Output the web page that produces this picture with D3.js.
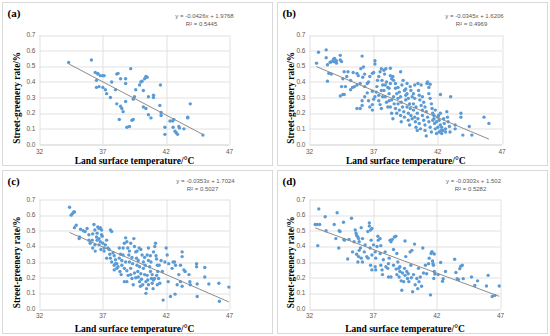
<!DOCTYPE html>
<html>
<head>
<meta charset="utf-8">
<script src="https://d3js.org/d3.v7.min.js"></script>
<style>
  body { margin: 0; background: #fff; }
  svg { display: block; }
</style>
</head>
<body>
<div id="chart"></div>
<script>

  // labels / regression text for the four panels
  var panelLabels = ["(a)", "(b)", "(c)", "(d)"]
  var slopes = [-0.0426, -0.0345, -0.0353, -0.0303]
  var intercepts = [1.9768, 1.6206, 1.7024, 1.502]
  var equations = ["y = -0.0426x + 1.9768", "y = -0.0345x + 1.6206", "y = -0.0353x + 1.7024", "y = -0.0303x + 1.502"]
  var r2Values = ["0.5445", "0.4969", "0.5027", "0.5282"]

  var xTicks = [32, 37, 42, 47]
  var yTicks = [0, 0.1, 0.2, 0.3, 0.4, 0.5, 0.6, 0.7]
  var xTitle = "Land surface temperature/°C"
  var yTitle = "Street-greenery rate/%"

  // [land surface temperature, street-greenery rate]
  var pointsA = [
    [34.3,0.525],[36.1,0.54],[36.4,0.46],[36.6,0.455],[36.6,0.45],[36.8,0.44],[36.5,0.41],[37.0,0.44],[37.1,0.44],
    [36.5,0.365],[36.7,0.37],[37.0,0.365],[37.2,0.35],[37.3,0.325],[37.6,0.30],[37.7,0.40],[38.1,0.45],[38.2,0.455],
    [38.4,0.42],[38.0,0.35],[38.1,0.26],[38.4,0.245],[38.5,0.23],[38.6,0.21],[38.3,0.16],[38.8,0.42],[38.8,0.39],
    [39.2,0.485],[38.8,0.275],[38.9,0.11],[39.1,0.115],[39.3,0.155],[39.4,0.16],[39.4,0.29],[39.5,0.305],[39.6,0.35],
    [39.9,0.38],[40.0,0.40],[40.1,0.405],[40.2,0.345],[40.3,0.42],[40.4,0.435],[40.5,0.43],[40.2,0.24],[40.4,0.23],
    [40.6,0.305],[40.6,0.19],[40.8,0.17],[41.0,0.315],[41.0,0.30],[41.55,0.38],[41.5,0.25],[41.6,0.205],[41.6,0.185],
    [41.9,0.11],[41.9,0.065],[42.3,0.15],[42.5,0.15],[42.6,0.16],[42.55,0.11],[42.7,0.085],[42.8,0.075],[42.9,0.065],
    [43.0,0.115],[43.05,0.105],[43.4,0.10],[43.7,0.175],[43.7,0.17],[43.9,0.26],[44.9,0.06]
  ]

  var pointsB = [
    [32.55,0.52],[32.7,0.59],[33.3,0.605],[33.3,0.555],[33.4,0.51],[33.4,0.405],[33.5,0.455],[33.7,0.45],
    [33.6,0.525],[33.7,0.53],[33.87,0.53],[34.0,0.53],[34.1,0.52],[33.87,0.545],[33.95,0.55],[34.1,0.535],[34.4,0.57],
    [34.4,0.54],[34.5,0.53],[34.4,0.31],[34.6,0.32],[34.7,0.32],[34.8,0.37],[34.5,0.37],[34.6,0.42],[34.7,0.465],
    [35.0,0.465],[34.9,0.435],[35.2,0.41],[35.2,0.35],[35.35,0.365],[35.5,0.37],[35.4,0.46],[35.7,0.455],[35.8,0.44],
    [35.7,0.38],[35.95,0.39],[36.1,0.565],[36.0,0.485],[36.2,0.495],[36.15,0.43],[36.3,0.45],[35.7,0.23],[35.95,0.23],
    [36.1,0.25],[36.1,0.28],[36.3,0.305],[36.3,0.37],[36.5,0.39],[36.6,0.40],[36.7,0.435],[36.9,0.455],[37.0,0.46],
    [37.1,0.535],[37.1,0.515],[36.6,0.28],[36.7,0.24],[36.9,0.22],[36.9,0.255],[37.1,0.305],[37.2,0.335],[37.25,0.37],
    [37.3,0.41],[37.4,0.435],[37.5,0.465],[37.6,0.485],[37.8,0.475],[37.85,0.45],[37.95,0.485],[38.3,0.487],[39.1,0.465],
    [37.4,0.28],[37.5,0.255],[37.6,0.23],[37.7,0.305],[37.8,0.345],[37.9,0.38],[38.0,0.40],[38.1,0.365],[38.2,0.325],
    [38.2,0.28],[38.3,0.24],[38.4,0.20],[38.5,0.165],[38.55,0.41],[38.7,0.39],[38.7,0.36],[38.8,0.325],[38.9,0.295],
    [38.9,0.26],[39.0,0.22],[39.1,0.185],[39.15,0.145],[39.2,0.38],[39.3,0.41],[39.4,0.345],[39.5,0.315],[39.5,0.285],
    [39.6,0.24],[39.7,0.20],[39.7,0.155],[39.8,0.125],[39.85,0.37],[39.9,0.345],[40.0,0.305],[40.1,0.26],[40.1,0.22],
    [40.2,0.175],[40.25,0.145],[40.3,0.11],[40.4,0.09],[40.45,0.39],[40.5,0.345],[40.55,0.315],[40.6,0.285],[40.7,0.25],
    [40.8,0.22],[40.8,0.185],[40.9,0.155],[41.0,0.125],[41.0,0.09],[41.1,0.055],[41.15,0.39],[41.2,0.40],[41.3,0.365],
    [41.3,0.325],[41.4,0.295],[41.5,0.26],[41.55,0.23],[41.6,0.20],[41.7,0.165],[41.75,0.135],[41.8,0.10],[41.9,0.07],
    [42.0,0.175],[42.05,0.185],[42.1,0.155],[42.2,0.125],[42.25,0.09],[42.3,0.07],[42.45,0.165],[42.5,0.135],[42.6,0.10],
    [42.6,0.08],[42.7,0.21],[42.75,0.175],[42.8,0.145],[42.9,0.115],[42.95,0.08],[43.0,0.305],[43.35,0.10],[43.35,0.125],
    [43.8,0.20],[43.8,0.175],[43.95,0.06],[44.45,0.115],[44.65,0.06],[45.6,0.175],[45.98,0.135],
    [38.4,0.285],[38.55,0.305],[38.6,0.26],[38.7,0.23],[38.8,0.20],[38.9,0.365],[39.0,0.335],[39.1,0.305],[39.15,0.27],
    [39.25,0.24],[39.35,0.21],[39.4,0.175],[39.5,0.355],[39.6,0.325],[39.7,0.295],[39.8,0.26],[39.85,0.23],[39.9,0.185],
    [40.0,0.165],[40.1,0.325],[40.2,0.295],[40.3,0.24],[40.4,0.20],[40.45,0.165],[40.55,0.135],[40.65,0.10],[40.8,0.305],
    [40.9,0.27],[41.0,0.24],[41.1,0.21],[41.2,0.175],[41.3,0.145],[41.4,0.11],[41.5,0.08],[41.6,0.155],[41.7,0.185],
    [41.8,0.22],[41.9,0.145],[42.0,0.11],[42.1,0.08],[42.2,0.20],[42.3,0.11],[42.4,0.09],[37.9,0.305],[38.0,0.27],
    [38.1,0.24],[38.2,0.36],[38.3,0.39],[38.4,0.42],[37.65,0.41],[37.7,0.38],[37.6,0.345],[37.4,0.315],[38.3,0.44],
    [38.5,0.435],[39.6,0.39],[40.2,0.38],[40.7,0.38],[41.4,0.385],[42.2,0.32],[36.9,0.34],[36.5,0.33],[37.0,0.29]
  ]

  var pointsC = [
    [34.37,0.65],[34.5,0.60],[34.6,0.61],[34.7,0.62],[34.76,0.62],[34.76,0.52],[34.9,0.535],[35.16,0.46],[35.24,0.51],
    [35.13,0.45],[35.6,0.495],[35.76,0.515],[35.9,0.475],[36.0,0.42],[36.16,0.44],[36.3,0.54],[36.37,0.505],[36.4,0.37],
    [36.55,0.485],[36.6,0.525],[36.7,0.515],[36.8,0.52],[36.9,0.505],[36.55,0.44],[36.7,0.45],[36.8,0.43],[36.95,0.465],
    [37.0,0.42],[36.7,0.41],[36.37,0.41],[36.2,0.39],[37.1,0.39],[37.1,0.37],[37.3,0.44],[37.4,0.39],[37.55,0.35],
    [37.6,0.505],[37.7,0.495],[37.6,0.325],[37.7,0.30],[37.9,0.28],[38.0,0.315],[38.1,0.26],[38.1,0.29],[37.9,0.25],
    [38.3,0.39],[38.3,0.325],[38.35,0.24],[38.45,0.22],[38.5,0.28],[38.7,0.26],[38.7,0.175],[38.9,0.175],[38.6,0.39],
    [38.7,0.42],[38.8,0.455],[38.9,0.43],[38.97,0.39],[39.05,0.345],[39.1,0.30],[39.2,0.26],[39.2,0.22],[39.3,0.195],
    [39.4,0.155],[39.45,0.45],[39.5,0.40],[39.6,0.365],[39.66,0.325],[39.7,0.28],[39.76,0.24],[39.8,0.205],[39.9,0.175],
    [39.97,0.145],[39.87,0.39],[40.0,0.38],[40.1,0.345],[40.2,0.30],[40.2,0.26],[40.3,0.22],[40.4,0.175],[40.45,0.13],
    [40.4,0.10],[40.5,0.345],[40.6,0.39],[40.6,0.31],[40.7,0.27],[40.76,0.24],[40.84,0.195],[40.9,0.165],[40.97,0.13],
    [41.0,0.365],[41.1,0.40],[41.16,0.42],[41.24,0.32],[41.3,0.28],[41.34,0.24],[41.4,0.195],[41.5,0.165],[41.3,0.155],
    [41.08,0.195],[41.7,0.24],[41.76,0.057],[41.9,0.30],[42.0,0.39],[42.08,0.345],[42.16,0.175],[42.2,0.29],[42.34,0.08],
    [42.47,0.26],[42.55,0.30],[42.66,0.30],[42.74,0.28],[42.7,0.095],[42.87,0.155],[43.0,0.22],[43.13,0.28],[43.26,0.365],
    [43.26,0.335],[43.4,0.25],[43.5,0.24],[43.13,0.175],[43.26,0.145],[44.4,0.29],[44.4,0.27],[45.05,0.265],[45.05,0.205],
    [43.8,0.22],[43.87,0.175],[43.9,0.155],[44.45,0.16],[45.37,0.16],[46.16,0.165],[44.45,0.08],[46.2,0.05],[46.95,0.14],
    [35.45,0.50],[35.9,0.44],[36.2,0.48],[36.5,0.46],[36.9,0.475],[37.2,0.41],[37.5,0.38],[37.8,0.36],[37.9,0.34],
    [38.0,0.29],[38.2,0.27],[38.5,0.31],[38.6,0.345],[38.8,0.30],[38.9,0.245],[39.0,0.215],[39.1,0.37],[39.3,0.33],
    [39.35,0.29],[39.5,0.23],[39.6,0.20],[39.7,0.37],[39.8,0.31],[39.9,0.27],[40.0,0.225],[40.05,0.19],[40.15,0.155],
    [40.3,0.33],[40.35,0.28],[40.5,0.215],[40.55,0.185],[40.6,0.155],[40.75,0.34],[40.8,0.30],[40.9,0.22],[41.0,0.185],
    [41.2,0.34],[41.25,0.215],[41.45,0.28],[41.6,0.31],[39.2,0.42],[38.4,0.35],[37.3,0.325],[36.85,0.38]
  ]

  var pointsD = [
    [32.73,0.64],[32.45,0.54],[32.6,0.54],[32.8,0.54],[32.65,0.405],[33.23,0.59],[33.3,0.50],[33.94,0.54],[34.17,0.615],
    [34.33,0.50],[34.4,0.495],[34.07,0.45],[34.3,0.39],[34.67,0.555],[34.7,0.445],[34.75,0.44],[35.0,0.32],[35.1,0.445],
    [35.3,0.58],[35.38,0.365],[35.5,0.43],[35.59,0.505],[35.66,0.485],[35.7,0.47],[35.8,0.46],[35.85,0.45],[35.9,0.43],
    [35.7,0.35],[35.85,0.335],[35.9,0.375],[35.8,0.30],[36.0,0.39],[36.06,0.325],[36.16,0.30],[36.06,0.52],[36.16,0.45],
    [36.3,0.365],[36.37,0.41],[36.5,0.335],[36.6,0.325],[36.58,0.495],[36.7,0.55],[36.7,0.53],[36.8,0.505],[36.9,0.515],
    [36.84,0.44],[36.76,0.39],[36.9,0.345],[36.8,0.28],[36.9,0.25],[37.03,0.41],[37.16,0.365],[37.2,0.325],[37.16,0.27],
    [37.2,0.25],[37.3,0.40],[37.37,0.465],[37.4,0.44],[37.55,0.45],[37.6,0.405],[37.55,0.355],[37.6,0.28],[37.7,0.25],
    [37.73,0.22],[37.8,0.315],[37.94,0.365],[38.0,0.27],[38.15,0.26],[38.2,0.29],[38.26,0.325],[38.33,0.44],[38.4,0.43],
    [38.5,0.445],[38.6,0.38],[38.2,0.205],[38.4,0.205],[38.6,0.28],[38.67,0.46],[38.78,0.465],[38.86,0.355],[38.94,0.30],
    [39.0,0.26],[38.86,0.22],[39.04,0.205],[39.1,0.24],[39.2,0.18],[39.25,0.12],[39.4,0.175],[39.46,0.26],[39.5,0.435],
    [39.56,0.335],[39.64,0.24],[39.7,0.195],[39.8,0.175],[39.9,0.365],[39.96,0.28],[40.04,0.375],[40.1,0.11],[40.17,0.22],
    [40.25,0.415],[40.3,0.155],[40.43,0.195],[40.5,0.13],[40.56,0.26],[40.7,0.205],[40.8,0.145],[40.9,0.39],[40.95,0.23],
    [41.1,0.28],[41.35,0.29],[41.4,0.325],[41.55,0.355],[41.6,0.365],[41.5,0.09],[41.74,0.28],[41.8,0.24],[41.76,0.195],
    [41.63,0.365],[41.8,0.352],[41.66,0.307],[41.7,0.29],[42.3,0.297],[41.84,0.224],[42.68,0.24],[42.45,0.177],[42.5,0.194],
    [43.4,0.318],[43.5,0.233],[43.88,0.273],[43.8,0.258],[44.0,0.28],[43.6,0.194],[43.7,0.188],[44.07,0.194],[44.72,0.205],
    [45.2,0.18],[44.98,0.15],[46.03,0.215],[45.9,0.147],[46.55,0.087],[46.9,0.147],[46.35,0.08],
    [39.3,0.23],[39.5,0.215],[39.1,0.27],[38.8,0.255],[39.75,0.225],[40.0,0.20],[40.6,0.175],[41.2,0.225],[42.1,0.22]
  ]

  var panelData = [pointsA, pointsB, pointsC, pointsD]

  // panel frames and plot areas (px, relative to each frame)
  var layout = [
    {x: 2.5, y: 2.5, w: 270, h: 163, plot: [37, 32.5, 227, 142], eqX: 202, eqY: 15, yTitleX: 17},
    {x: 277.5, y: 2.5, w: 270, h: 163, plot: [32, 32.5, 224.5, 142], eqX: 197, eqY: 15, yTitleX: 16},
    {x: 2.5, y: 170.5, w: 270, h: 163, plot: [37, 29, 227, 138.5], eqX: 203, eqY: 12, yTitleX: 17},
    {x: 277.5, y: 170.5, w: 270, h: 163, plot: [32, 29, 223, 138.5], eqX: 196, eqY: 12, yTitleX: 16}
  ]

  var svg = d3.select("#chart").append("svg")
    .attr("width", 550)
    .attr("height", 336)

  layout.forEach(function(L, i) {
    var g = svg.append("g").attr("transform", "translate(" + L.x + "," + L.y + ")")

    g.append("rect")
      .attr("width", L.w).attr("height", L.h)
      .attr("fill", "#fff").attr("stroke", "#d9d9d9").attr("stroke-width", 1)

    var x = d3.scaleLinear().domain([32, 47]).range([L.plot[0], L.plot[2]])
    var y = d3.scaleLinear().domain([0, 0.7]).range([L.plot[3], L.plot[1]])

    // grid
    g.selectAll(".hg").data(yTicks).enter().append("line")
      .attr("x1", x(32)).attr("x2", x(47))
      .attr("y1", function(d) { return Math.round(y(d)) + 0.5 })
      .attr("y2", function(d) { return Math.round(y(d)) + 0.5 })
      .attr("stroke", function(d) { return d === 0 ? "#bfbfbf" : "#d9d9d9" })
      .attr("stroke-width", 0.8)
    g.selectAll(".vg").data(xTicks).enter().append("line")
      .attr("y1", y(0)).attr("y2", y(0.7))
      .attr("x1", function(d) { return Math.round(x(d)) + 0.5 })
      .attr("x2", function(d) { return Math.round(x(d)) + 0.5 })
      .attr("stroke", "#d9d9d9").attr("stroke-width", 0.8)

    // tick labels
    g.selectAll(".yt").data(yTicks).enter().append("text")
      .attr("x", x(32) - 4).attr("y", function(d) { return y(d) + 2 })
      .attr("text-anchor", "end")
      .attr("font-family", "Liberation Sans, Arial, sans-serif").attr("font-size", 6.5)
      .attr("fill", "#595959")
      .text(function(d) { return d3.format(".1f")(d) })
    g.selectAll(".xt").data(xTicks).enter().append("text")
      .attr("x", function(d) { return x(d) }).attr("y", y(0) + 9)
      .attr("text-anchor", "middle")
      .attr("font-family", "Liberation Sans, Arial, sans-serif").attr("font-size", 6.5)
      .attr("fill", "#595959")
      .text(function(d) { return d })

    // points
    var pts = panelData[i]
    g.selectAll("circle").data(pts).enter().append("circle")
      .attr("cx", function(d) { return x(d[0]) })
      .attr("cy", function(d) { return y(d[1]) })
      .attr("r", 1.7)
      .attr("fill", "#5b9bd5")

    // trend line over the data range
    var ext = d3.extent(pts, function(d) { return d[0] })
    g.append("line")
      .attr("x1", x(ext[0])).attr("y1", y(slopes[i] * ext[0] + intercepts[i]))
      .attr("x2", x(ext[1])).attr("y2", y(slopes[i] * ext[1] + intercepts[i]))
      .attr("stroke", "#8c8c8c").attr("stroke-width", 1)

    // equation
    g.append("text")
      .attr("x", L.eqX).attr("y", L.eqY)
      .attr("text-anchor", "middle")
      .attr("font-family", "Liberation Sans, Arial, sans-serif").attr("font-size", 6)
      .attr("fill", "#595959")
      .text(equations[i])
    g.append("text")
      .attr("x", L.eqX - 3).attr("y", L.eqY + 8.3)
      .attr("text-anchor", "middle")
      .attr("font-family", "Liberation Sans, Arial, sans-serif").attr("font-size", 6)
      .attr("fill", "#595959")
      .text("R² = " + r2Values[i])

    // panel label
    g.append("text")
      .attr("x", 5).attr("y", 14)
      .attr("font-family", "Liberation Serif, Times New Roman, serif").attr("font-size", 11)
      .attr("font-weight", "bold")
      .text(panelLabels[i])

    // axis titles
    g.append("text")
      .attr("x", (x(32) + x(47)) / 2).attr("y", L.h - 1.5)
      .attr("text-anchor", "middle")
      .attr("font-family", "Liberation Serif, Times New Roman, serif").attr("font-size", 9.5)
      .attr("font-weight", "bold")
      .text(xTitle)
    var cy = (y(0) + y(0.7)) / 2 + 8
    g.append("text")
      .attr("transform", "translate(" + L.yTitleX + "," + cy + ") rotate(-90)")
      .attr("text-anchor", "middle")
      .attr("font-family", "Liberation Serif, Times New Roman, serif").attr("font-size", 9.3)
      .attr("font-weight", "bold")
      .text(yTitle)
  })

</script>
</body>
</html>
